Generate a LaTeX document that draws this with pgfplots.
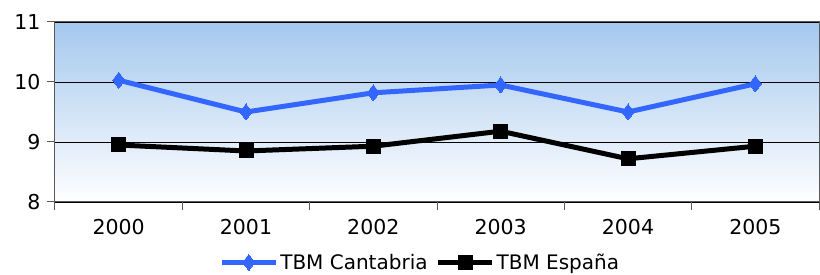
\documentclass[border=0pt]{standalone}
\usepackage{pgfplots}
\pgfplotsset{compat=1.18}
\usepackage{fontspec}
\setmainfont{DejaVu Sans}
\definecolor{cantab}{HTML}{3366FF}
\definecolor{topblue}{HTML}{A4C8EE}
\begin{document}
\begin{tikzpicture}
\path[use as bounding box] (-55pt,-73pt) rectangle (765pt,202pt);
\begin{axis}[
  scale only axis,
  width=764pt, height=180pt,
  xmin=-0.5, xmax=5.5, ymin=8, ymax=11,
  xtick={-0.5,0.5,1.5,2.5,3.5,4.5,5.5},
  x tick label as interval,
  xticklabels={2000,2001,2002,2003,2004,2005},
  ytick={8,9,10,11},
  ymajorgrids,
  grid style={black, line width=0.8pt},
  axis line style={gray!70!black, line width=1pt},
  tick style={gray!70!black, line width=1pt},
  tick align=outside,
  major tick length=8pt,
  xtick pos=bottom, ytick pos=left,
  /pgf/number format/assume math mode=true,
  /pgf/number format/1000 sep={},
  tick label style={font=\fontsize{20.5}{24}\selectfont, text=black},
  xticklabel style={yshift=-6pt},
  yticklabel style={xshift=-3pt},
  axis background/.style={top color=topblue, bottom color=white},
  legend style={at={(0.478,-0.335)}, anchor=center, draw=none, fill=none,
    font=\fontsize{20}{24}\selectfont, legend columns=2,
    /tikz/every even column/.append style={column sep=6pt}},
  legend image code/.code={
    \draw[#1, mark repeat=2, mark phase=2] plot coordinates {(0pt,0pt) (27pt,0pt) (54pt,0pt)};
  },
]
\addplot[cantab, line width=5pt, mark=diamond*, mark size=8pt, mark options={line width=0pt}]
  coordinates {(0,10.03) (1,9.50) (2,9.82) (3,9.95) (4,9.50) (5,9.97)};
\addlegendentry{TBM Cantabria}
\addplot[black, line width=5pt, mark=square*, mark size=7pt, mark options={line width=0pt}]
  coordinates {(0,8.95) (1,8.85) (2,8.93) (3,9.18) (4,8.72) (5,8.93)};
\addlegendentry{TBM España}
\end{axis}
\end{tikzpicture}
\end{document}
